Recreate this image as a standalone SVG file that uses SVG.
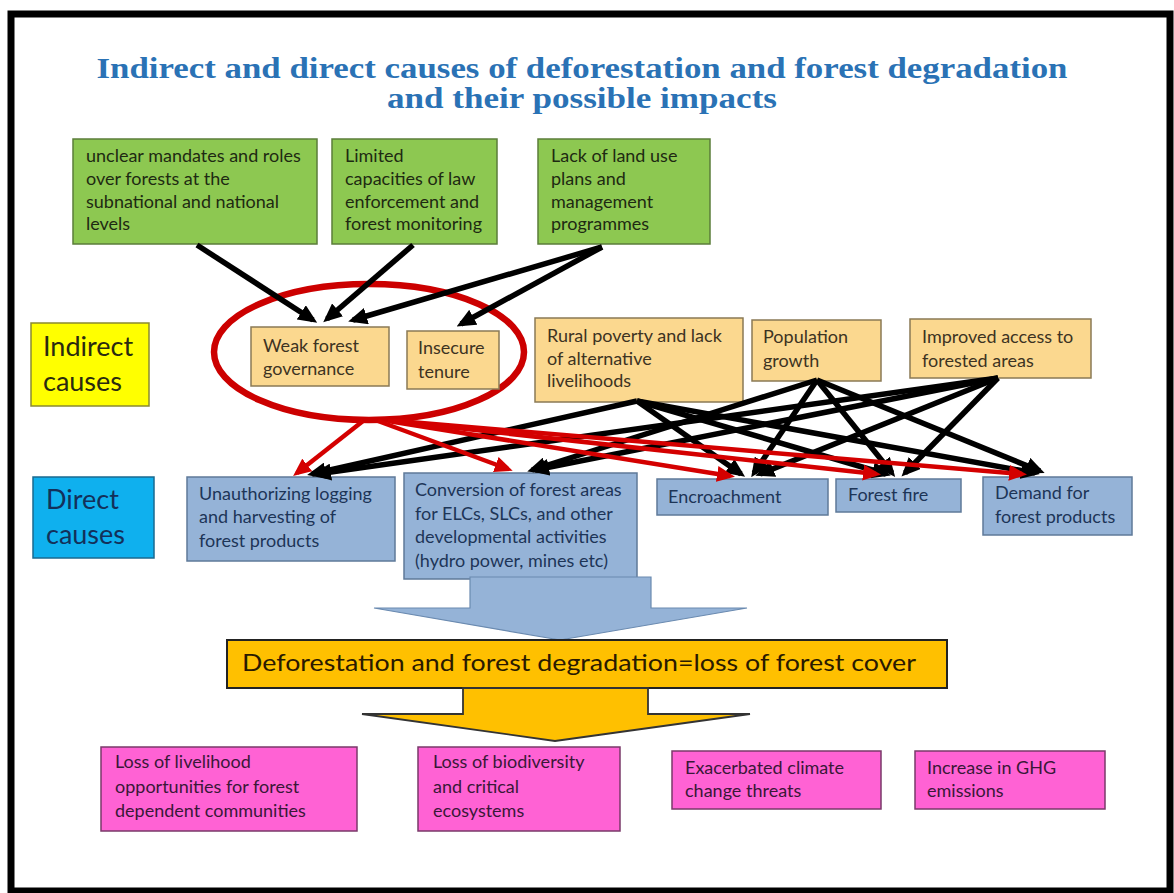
<svg xmlns="http://www.w3.org/2000/svg" width="1174" height="893" viewBox="0 0 1174 893">
<style>
text{font-family:Lato,"Liberation Sans",sans-serif;font-size:18px}
.g rect{fill:#8dc851;stroke:#5b7d3a;stroke-width:1.5}
.g text{fill:#1e2a12}
.i rect{fill:#fbd88f;stroke:#8a7a55;stroke-width:1.5}
.i text{fill:#3d3322}
.d rect{fill:#95b3d7;stroke:#5f7a99;stroke-width:1.5}
.d text{fill:#1d3557}
.p rect{fill:#ff62d4;stroke:#7a3a6a;stroke-width:1.5}
.p text{fill:#3a1838}
.cb line{stroke:#000;stroke-width:5.5;marker-end:url(#ab)}
.cr line{stroke:#d40000;stroke-width:4.5;marker-end:url(#ar)}
.lbl{font-size:27px}
.ttl{font-family:"Liberation Serif",serif;font-size:29px;font-weight:bold;fill:#2a72b5}
</style>
<defs>
<marker id="ab" markerUnits="userSpaceOnUse" markerWidth="19" markerHeight="17" refX="14" refY="8.5" orient="auto"><path d="M0,0 L19,8.5 L0,17 Z" fill="#000"/></marker>
<marker id="ar" markerUnits="userSpaceOnUse" markerWidth="18" markerHeight="16" refX="13" refY="8" orient="auto"><path d="M0,0 L18,8 L0,16 Z" fill="#d40000"/></marker>
</defs>
<rect x="0" y="0" width="1174" height="893" fill="#fff"/>
<rect x="11" y="14" width="1159" height="877" fill="none" stroke="#000" stroke-width="7"/>
<g id="title">
<text class="ttl" x="582" y="78" text-anchor="middle" textLength="971" lengthAdjust="spacingAndGlyphs">Indirect and direct causes of deforestation and forest degradation</text>
<text class="ttl" x="582" y="108" text-anchor="middle" textLength="390" lengthAdjust="spacingAndGlyphs">and their possible impacts</text>
</g>
<g id="g1" class="g"><rect x="73" y="139" width="244" height="105"/><text x="86" y="162">unclear mandates and roles</text><text x="86" y="185">over forests at the</text><text x="86" y="208">subnational and national</text><text x="86" y="230">levels</text></g>
<g id="g2" class="g"><rect x="332" y="139" width="165" height="105"/><text x="345" y="162">Limited</text><text x="345" y="185">capacities of law</text><text x="345" y="208">enforcement and</text><text x="345" y="230">forest monitoring</text></g>
<g id="g3" class="g"><rect x="538" y="139" width="172" height="105"/><text x="551" y="162">Lack of land use</text><text x="551" y="185">plans and</text><text x="551" y="208">management</text><text x="551" y="230">programmes</text></g>
<g id="label-indirect"><rect x="31" y="323" width="118" height="83" fill="#ffff00" stroke="#8a8a30" stroke-width="1.5"/><text class="lbl" x="43" y="356" fill="#2a2a10">Indirect</text><text class="lbl" x="43" y="391" fill="#2a2a10">causes</text></g>
<g id="label-direct"><rect x="33" y="477" width="121" height="81" fill="#0fb0ee" stroke="#1a6a90" stroke-width="1.5"/><text class="lbl" x="46" y="509" fill="#13305a">Direct</text><text class="lbl" x="46" y="544" fill="#13305a">causes</text></g>
<ellipse id="highlight" cx="369" cy="352" rx="155" ry="68" fill="none" stroke="#cc0000" stroke-width="6.5"/>
<g id="weak" class="i"><rect x="251" y="327" width="138" height="59"/><text x="263" y="352">Weak forest</text><text x="263" y="375">governance</text></g>
<g id="insecure" class="i"><rect x="407" y="331" width="92" height="58"/><text x="418" y="354">Insecure</text><text x="418" y="378">tenure</text></g>
<g id="rural" class="i"><rect x="535" y="318" width="208" height="84"/><text x="547" y="342">Rural poverty and lack</text><text x="547" y="365">of alternative</text><text x="547" y="387">livelihoods</text></g>
<g id="population" class="i"><rect x="752" y="320" width="129" height="61"/><text x="763" y="343">Population</text><text x="763" y="367">growth</text></g>
<g id="access" class="i"><rect x="910" y="319" width="181" height="59"/><text x="922" y="343">Improved access to</text><text x="922" y="367">forested areas</text></g>
<g id="logging" class="d"><rect x="187" y="477" width="208" height="84"/><text x="199" y="500">Unauthorizing logging</text><text x="199" y="523">and harvesting of</text><text x="199" y="547">forest products</text></g>
<g id="conversion" class="d"><rect x="404" y="473" width="233" height="106"/><text x="415" y="496">Conversion of forest areas</text><text x="415" y="520">for ELCs, SLCs, and other</text><text x="415" y="543">developmental activities</text><text x="415" y="567">(hydro power, mines etc)</text></g>
<g id="encroachment" class="d"><rect x="657" y="479" width="171" height="36"/><text x="668" y="503">Encroachment</text></g>
<g id="fire" class="d"><rect x="836" y="479" width="125" height="33"/><text x="848" y="501">Forest fire</text></g>
<g id="demand" class="d"><rect x="983" y="477" width="149" height="58"/><text x="995" y="499">Demand for</text><text x="995" y="523">forest products</text></g>
<g id="arrow-blue"><polygon points="470,577 651,577 651,608 747,608 560,640 374,608 470,608" fill="#95b3d7" stroke="#6a8ab0" stroke-width="1.2"/></g>
<g id="result"><rect x="227" y="640" width="720" height="48" fill="#ffc000" stroke="#222" stroke-width="2"/><text x="242" y="671" style="font-size:24px" fill="#2a1a00" textLength="674" lengthAdjust="spacingAndGlyphs">Deforestation and forest degradation=loss of forest cover</text></g>
<g id="arrow-orange"><polygon points="463,688 648,688 648,714 750,714 555,741 362,714 463,714" fill="#ffc000" stroke="#333" stroke-width="1.8"/></g>
<g id="impact1" class="p"><rect x="101" y="747" width="256" height="84"/><text x="115" y="768">Loss of livelihood</text><text x="115" y="793">opportunities for forest</text><text x="115" y="817">dependent communities</text></g>
<g id="impact2" class="p"><rect x="418" y="747" width="202" height="84"/><text x="433" y="768">Loss of biodiversity</text><text x="433" y="793">and critical</text><text x="433" y="817">ecosystems</text></g>
<g id="impact3" class="p"><rect x="672" y="751" width="209" height="58"/><text x="685" y="774">Exacerbated climate</text><text x="685" y="797">change threats</text></g>
<g id="impact4" class="p"><rect x="915" y="751" width="190" height="58"/><text x="927" y="774">Increase in GHG</text><text x="927" y="797">emissions</text></g>
<g id="connectors">
<g class="cb">
<line x1="197" y1="245" x2="313" y2="320"/>
<line x1="413" y1="245" x2="327" y2="319"/>
<line x1="602" y1="247" x2="353" y2="320"/>
<line x1="602" y1="247" x2="461" y2="324"/>
<line x1="637" y1="401" x2="312" y2="474"/>
<line x1="637" y1="401" x2="741" y2="474"/>
<line x1="637" y1="401" x2="886" y2="474"/>
<line x1="637" y1="401" x2="1035" y2="473"/>
<line x1="817" y1="380" x2="532" y2="470"/>
<line x1="817" y1="380" x2="754" y2="473"/>
<line x1="817" y1="380" x2="892" y2="473"/>
<line x1="817" y1="380" x2="1040" y2="471"/>
<line x1="998" y1="378" x2="317" y2="474"/>
<line x1="998" y1="378" x2="535" y2="470"/>
<line x1="998" y1="378" x2="760" y2="474"/>
<line x1="998" y1="378" x2="905" y2="473"/>
</g>
<g class="cr">
<line x1="363" y1="421" x2="297" y2="473"/>
<line x1="378" y1="421" x2="508" y2="469"/>
<line x1="388" y1="421" x2="730" y2="476"/>
<line x1="393" y1="421" x2="876" y2="474"/>
<line x1="398" y1="421" x2="1022" y2="474"/>
</g>
</g>
</svg>
